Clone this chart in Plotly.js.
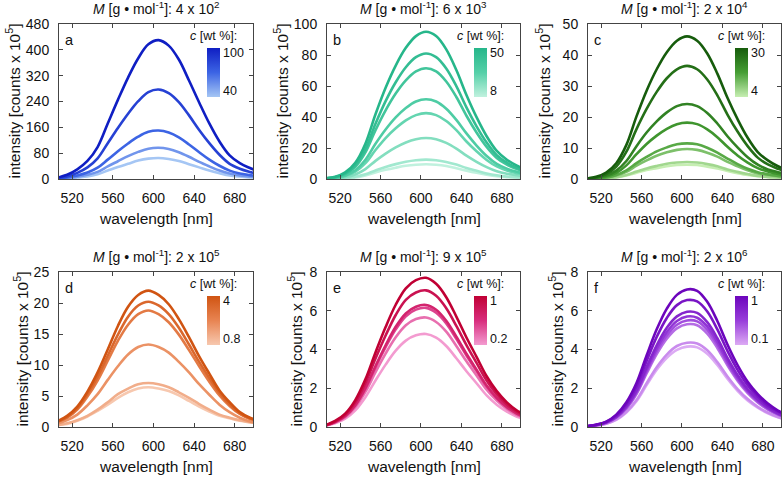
<!DOCTYPE html>
<html>
<head>
<meta charset="utf-8">
<script src="https://cdn.plot.ly/plotly-3.0.1.min.js"></script>
<style>
  html, body { margin: 0; padding: 0; background: #fff; }
  #plot { width: 783px; height: 478px; }
</style>
</head>
<body>
<div id="plot"></div>
<script>
// wavelength grid [nm]
const wl = [505, 515, 525, 535, 545, 555, 565, 575, 585, 595, 605, 615, 625, 635, 645, 655, 665, 675, 685, 695, 705];

// a: M = 4 x 10^2, c = 100 ... 40 wt %
const aCurves = [
  [4, 13, 30, 56, 99, 172, 245, 314, 374, 417, 430, 413, 370, 305, 237, 172, 116, 73, 49, 34, 22],
  [3, 8, 19, 36, 64, 111, 158, 202, 241, 269, 277, 266, 238, 197, 152, 111, 75, 47, 32, 22, 14],
  [2, 5, 11, 20, 35, 60, 86, 110, 131, 146, 150, 144, 129, 107, 83, 60, 41, 26, 17, 12, 8],
  [1, 3, 7, 13, 22, 39, 55, 71, 84, 94, 97, 93, 83, 69, 53, 39, 26, 17, 11, 8, 5],
  [1, 2, 5, 8, 15, 26, 37, 47, 57, 63, 65, 62, 56, 46, 36, 26, 18, 11, 7.5, 5, 3]
];
// b: M = 6 x 10^3, c = 50 ... 8 wt %
const bCurves = [
  [0.5, 1.4, 4.3, 10.5, 22.8, 41.8, 58.9, 73.2, 84.6, 92.2, 95, 92.2, 83.6, 70.3, 54.2, 39.9, 27.6, 18.1, 12.4, 8.6, 5.7],
  [0.4, 1.2, 3.6, 8.9, 19.4, 35.6, 50.2, 62.4, 72.1, 78.6, 81, 78.6, 71.3, 59.9, 46.2, 34, 23.5, 15.4, 10.5, 7.3, 4.9],
  [0.4, 1.1, 3.2, 7.9, 17.2, 31.5, 44.3, 55.1, 63.6, 69.4, 71.5, 69.4, 62.9, 52.9, 40.8, 30, 20.7, 13.6, 9.3, 6.4, 4.3],
  [0.3, 0.8, 2.3, 5.7, 12.4, 22.7, 31.9, 39.7, 45.8, 50, 51.5, 50, 45.3, 38.1, 29.4, 21.6, 14.9, 9.8, 6.7, 4.6, 3.1],
  [0.2, 0.6, 1.9, 4.7, 10.2, 18.7, 26.4, 32.7, 37.8, 41.2, 42.5, 41.2, 37.4, 31.5, 24.2, 17.9, 12.3, 8.1, 5.5, 3.8, 2.6],
  [0.1, 0.4, 1.2, 2.9, 6.4, 11.7, 16.4, 20.4, 23.6, 25.7, 26.5, 25.7, 23.3, 19.6, 15.1, 11.1, 7.7, 5, 3.4, 2.4, 1.6],
  [0.1, 0.2, 0.6, 1.4, 3, 5.5, 7.8, 9.6, 11.1, 12.1, 12.5, 12.1, 11, 9.3, 7.1, 5.3, 3.6, 2.4, 1.6, 1.1, 0.8],
  [0, 0.1, 0.4, 1, 2.3, 4.2, 5.9, 7.3, 8.5, 9.2, 9.5, 9.2, 8.4, 7, 5.4, 4, 2.8, 1.8, 1.2, 0.9, 0.6]
];
// c: M = 2 x 10^4, c = 30 ... 4 wt %
const cCurves = [
  [0.2, 0.7, 2.1, 5.1, 11, 20.2, 28.5, 35.4, 40.9, 44.6, 46, 44.6, 40.5, 34, 26.2, 19.3, 13.3, 8.7, 6, 4.1, 2.8],
  [0.2, 0.5, 1.6, 4, 8.8, 16.1, 22.6, 28.1, 32.5, 35.4, 36.5, 35.4, 32.1, 27, 20.8, 15.3, 10.6, 6.9, 4.7, 3.3, 2.2],
  [0.1, 0.4, 1.1, 2.7, 5.8, 10.6, 15, 18.6, 21.5, 23.5, 24.2, 23.5, 21.3, 17.9, 13.8, 10.2, 7, 4.6, 3.1, 2.2, 1.5],
  [0.1, 0.3, 0.8, 2, 4.4, 8, 11.3, 14, 16.2, 17.7, 18.2, 17.7, 16, 13.5, 10.4, 7.6, 5.3, 3.5, 2.4, 1.6, 1.1],
  [0.1, 0.2, 0.5, 1.3, 2.8, 5.1, 7.1, 8.9, 10.2, 11.2, 11.5, 11.2, 10.1, 8.5, 6.6, 4.8, 3.3, 2.2, 1.5, 1, 0.7],
  [0, 0.1, 0.4, 1.1, 2.3, 4.3, 6, 7.5, 8.6, 9.4, 9.7, 9.4, 8.5, 7.2, 5.5, 4.1, 2.8, 1.8, 1.3, 0.9, 0.6],
  [0, 0.1, 0.2, 0.6, 1.3, 2.4, 3.4, 4.2, 4.9, 5.3, 5.5, 5.3, 4.8, 4.1, 3.1, 2.3, 1.6, 1, 0.7, 0.5, 0.3],
  [0, 0.1, 0.2, 0.5, 1.1, 2, 2.9, 3.5, 4.1, 4.5, 4.6, 4.5, 4, 3.4, 2.6, 1.9, 1.3, 0.9, 0.6, 0.4, 0.3]
];
// d: M = 2 x 10^5, c = 4 ... 0.8 wt %
const dCurves = [
  [0.9, 1.8, 3.3, 5.7, 8.8, 12.5, 16.3, 19.4, 21.3, 22, 21.3, 19.8, 17.4, 14.5, 11.4, 8.6, 5.9, 4, 2.4, 1.5, 1],
  [0.8, 1.6, 3, 5.3, 8.1, 11.5, 14.9, 17.8, 19.6, 20.2, 19.6, 18.2, 16, 13.3, 10.5, 7.9, 5.5, 3.6, 2.2, 1.4, 0.9],
  [0.8, 1.5, 2.8, 4.9, 7.5, 10.7, 13.9, 16.5, 18.2, 18.8, 18.2, 16.9, 14.9, 12.4, 9.8, 7.3, 5.1, 3.4, 2.1, 1.3, 0.8],
  [0.5, 1.1, 2, 3.5, 5.3, 7.6, 9.8, 11.7, 12.9, 13.3, 12.9, 12, 10.5, 8.8, 6.9, 5.2, 3.6, 2.4, 1.5, 0.9, 0.6],
  [0.3, 0.6, 1.1, 1.8, 2.8, 4, 5.3, 6.2, 6.9, 7.1, 6.9, 6.4, 5.6, 4.7, 3.7, 2.8, 2, 1.5, 1.1, 0.8, 0.6],
  [0.3, 0.5, 1, 1.7, 2.6, 3.6, 4.7, 5.6, 6.2, 6.4, 6.2, 5.8, 5.1, 4.2, 3.3, 2.5, 1.8, 1.4, 1, 0.75, 0.55]
];
// e: M = 9 x 10^5, c = 1 ... 0.2 wt %
const eCurves = [
  [0.09, 0.31, 0.69, 1.39, 2.46, 3.85, 5.16, 6.31, 7.16, 7.58, 7.7, 7.39, 6.7, 5.7, 4.62, 3.62, 2.62, 1.85, 1.27, 0.85, 0.58],
  [0.08, 0.28, 0.63, 1.27, 2.26, 3.53, 4.72, 5.78, 6.56, 6.94, 7.05, 6.77, 6.13, 5.22, 4.23, 3.31, 2.4, 1.69, 1.16, 0.78, 0.53],
  [0.08, 0.25, 0.57, 1.13, 2.02, 3.15, 4.22, 5.17, 5.86, 6.21, 6.3, 6.05, 5.48, 4.66, 3.78, 2.96, 2.14, 1.51, 1.04, 0.69, 0.47],
  [0.07, 0.25, 0.55, 1.11, 1.97, 3.08, 4.12, 5.04, 5.72, 6.06, 6.15, 5.9, 5.35, 4.55, 3.69, 2.89, 2.09, 1.48, 1.01, 0.68, 0.46],
  [0.07, 0.23, 0.51, 1.02, 1.81, 2.83, 3.79, 4.63, 5.25, 5.57, 5.65, 5.42, 4.92, 4.18, 3.39, 2.66, 1.92, 1.36, 0.93, 0.62, 0.42],
  [0.06, 0.19, 0.43, 0.86, 1.54, 2.4, 3.22, 3.94, 4.46, 4.73, 4.8, 4.61, 4.18, 3.55, 2.88, 2.26, 1.63, 1.15, 0.79, 0.53, 0.36]
];
// f: M = 2 x 10^6, c = 1 ... 0.1 wt %
const fCurves = [
  [0.04, 0.12, 0.28, 0.64, 1.28, 2.27, 3.69, 5.04, 6.11, 6.82, 7.1, 7.03, 6.46, 5.47, 4.26, 3.2, 2.34, 1.7, 1.21, 0.85, 0.6],
  [0.04, 0.11, 0.26, 0.59, 1.18, 2.1, 3.41, 4.65, 5.63, 6.29, 6.55, 6.48, 5.96, 5.04, 3.93, 2.95, 2.16, 1.57, 1.11, 0.79, 0.56],
  [0.04, 0.1, 0.24, 0.54, 1.07, 1.9, 3.09, 4.22, 5.12, 5.71, 5.95, 5.89, 5.41, 4.58, 3.57, 2.68, 1.96, 1.43, 1.01, 0.71, 0.51],
  [0.03, 0.1, 0.23, 0.51, 1.03, 1.82, 2.96, 4.05, 4.9, 5.47, 5.7, 5.64, 5.19, 4.39, 3.42, 2.57, 1.88, 1.37, 0.97, 0.68, 0.48],
  [0.03, 0.09, 0.22, 0.5, 0.99, 1.76, 2.86, 3.91, 4.73, 5.28, 5.5, 5.45, 5.01, 4.24, 3.3, 2.48, 1.82, 1.32, 0.94, 0.66, 0.47],
  [0.03, 0.09, 0.21, 0.48, 0.95, 1.7, 2.76, 3.76, 4.56, 5.09, 5.3, 5.25, 4.82, 4.08, 3.18, 2.39, 1.75, 1.27, 0.9, 0.64, 0.45],
  [0.03, 0.07, 0.17, 0.39, 0.78, 1.39, 2.26, 3.09, 3.74, 4.18, 4.35, 4.31, 3.96, 3.35, 2.61, 1.96, 1.44, 1.04, 0.74, 0.52, 0.37],
  [0.02, 0.07, 0.17, 0.37, 0.75, 1.33, 2.16, 2.95, 3.57, 3.98, 4.15, 4.11, 3.78, 3.2, 2.49, 1.87, 1.37, 1, 0.71, 0.5, 0.35]
];

const panelLetters = ['a', 'b', 'c', 'd', 'e', 'f'];
const massMant = ['4', '6', '2', '2', '9', '2'];
const massExp = ['2', '3', '4', '5', '5', '6'];
const concMax = ['100', '50', '30', '4', '1', '1'];
const concMin = ['40', '8', '4', '0.8', '0.2', '0.1'];
const yMax = [480, 100, 50, 25, 8, 8];
const yStep = [80, 20, 10, 5, 2, 2];
const xTicks = [520, 560, 600, 640, 680];

const allCurves = [aCurves, bCurves, cCurves, dCurves, eCurves, fCurves];

// dark / middle / light stops of each panel's colour ramp
const darkCol = [[15, 30, 195], [38, 182, 138], [22, 92, 12], [208, 84, 18], [192, 0, 52], [108, 5, 188]];
const midCol = [[60, 100, 228], [85, 208, 168], [70, 158, 52], [232, 132, 82], [216, 45, 125], [152, 62, 218]];
const lightCol = [[165, 198, 244], [192, 241, 222], [198, 238, 178], [247, 200, 175], [243, 155, 208], [220, 170, 244]];

const W = 783, H = 478;
const colL = [59, 327, 588], colR = [253, 520, 781];
const rowT = [24, 272], rowB = [179, 427];
const yTitleX = [14, 282, 544, 21, 295, 556];
const px = x => x / W;
const py = y => 1 - y / H;
const FONT = '"Liberation Sans", Arial, Helvetica, sans-serif';

function rgb(c) { return `rgb(${c[0]},${c[1]},${c[2]})`; }

// t = 0 -> dark, t = 1 -> light
function ramp(i, t) {
  const a = t < 0.5 ? darkCol[i] : midCol[i];
  const b = t < 0.5 ? midCol[i] : lightCol[i];
  const u = t < 0.5 ? t * 2 : (t - 0.5) * 2;
  return rgb(a.map((v, k) => Math.round(v + (b[k] - v) * u)));
}

const traces = [];
const layout = {
  width: W, height: H,
  margin: { l: 0, r: 0, t: 0, b: 0 },
  showlegend: false,
  paper_bgcolor: '#fff',
  plot_bgcolor: '#fff',
  font: { family: FONT, size: 14, color: '#111' },
  annotations: []
};

allCurves.forEach((curves, i) => {
  const col = i % 3, row = Math.floor(i / 3);
  const n = i === 0 ? '' : String(i + 1);
  const L = colL[col], R = colR[col], T = rowT[row], B = rowB[row];

  layout['xaxis' + n] = {
    domain: [px(L), px(R)], anchor: 'y' + n,
    range: [507, 698], tickvals: xTicks,
    ticks: 'inside', ticklen: 4, tickcolor: '#444',
    showline: true, linecolor: '#444', linewidth: 1, mirror: 'ticks',
    showgrid: false, zeroline: false,
    tickfont: { size: 14, color: '#111' }, ticklabelstandoff: 6
  };
  layout['yaxis' + n] = {
    domain: [py(B), py(T)], anchor: 'x' + n,
    range: [0, yMax[i]], dtick: yStep[i], tick0: 0,
    ticks: 'inside', ticklen: 4, tickcolor: '#444',
    showline: true, linecolor: '#444', linewidth: 1, mirror: 'ticks',
    showgrid: false, zeroline: false,
    tickfont: { size: 14, color: '#111' }, ticklabelstandoff: 6
  };

  const m = curves.length;
  // lightest first so the darkest curve sits on top
  for (let k = m - 1; k >= 0; k--) {
    traces.push({
      x: wl, y: curves[k],
      xaxis: 'x' + n, yaxis: 'y' + n,
      mode: 'lines', type: 'scatter',
      line: { color: ramp(i, m > 1 ? k / (m - 1) : 0), width: 2.6, shape: 'spline', smoothing: 1 },
      hoverinfo: 'skip'
    });
  }

  // colour bar for the concentration
  traces.push({
    x: [0], y: [0], xaxis: 'x' + n, yaxis: 'y' + n,
    mode: 'markers', type: 'scatter', hoverinfo: 'skip',
    marker: {
      size: 1, color: [0], cmin: 0, cmax: 1,
      colorscale: [[0, ramp(i, 1)], [0.5, ramp(i, 0.5)], [1, ramp(i, 0)]],
      showscale: true,
      colorbar: {
        x: px(R - 46), xanchor: 'left', xpad: 0,
        y: py(T + 24), yanchor: 'top', ypad: 0,
        len: 49, lenmode: 'pixels', thickness: 13, thicknessmode: 'pixels',
        outlinewidth: 0, ticks: '', tickvals: [0.12, 0.9], ticktext: [concMin[i], concMax[i]],
        tickfont: { family: FONT, size: 12.5, color: '#111' }
      }
    }
  });

  const cx = px((L + R) / 2);
  layout.annotations.push(
    { text: `<i>M</i> [g • mol<sup>-1</sup>]: ${massMant[i]} x 10<sup>${massExp[i]}</sup>`,
      x: cx, y: py(T - 16), xref: 'paper', yref: 'paper', xanchor: 'center', yanchor: 'middle',
      showarrow: false, font: { size: 14 } },
    { text: panelLetters[i], x: px(L + 4), y: py(T + 16), xref: 'paper', yref: 'paper',
      xanchor: 'left', yanchor: 'middle', showarrow: false, font: { size: 14.5 } },
    { text: 'intensity [counts x 10<sup>5</sup>]', x: px(yTitleX[i]), y: py((T + B) / 2),
      xref: 'paper', yref: 'paper', xanchor: 'center', yanchor: 'middle', textangle: -90,
      showarrow: false, font: { size: 15.5 } },
    { text: 'wavelength [nm]', x: cx, y: py(B + 39), xref: 'paper', yref: 'paper',
      xanchor: 'center', yanchor: 'middle', showarrow: false, font: { size: 15.5 } },
    { text: '<i>c</i> [wt %]:', x: px(R - 14), y: py(T + 12), xref: 'paper', yref: 'paper',
      xanchor: 'right', yanchor: 'middle', showarrow: false, font: { size: 12.5 } }
  );
});

Plotly.newPlot('plot', traces, layout, { displayModeBar: false });
</script>
</body>
</html>
